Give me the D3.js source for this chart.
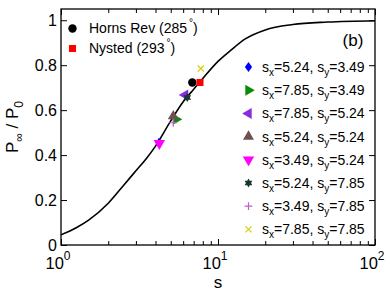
<!DOCTYPE html>
<html>
<head>
<meta charset="utf-8">
<script src="https://cdn.jsdelivr.net/npm/d3@7"></script>
<style>
  body { margin: 0; background: #fff; }
  text { font-family: "Liberation Sans", Arial, Helvetica, sans-serif; fill: #000; }
</style>
</head>
<body>
<div id="chart"></div>
<script>
// theory curve
const curveS = [1, 1.25, 1.5, 2, 2.5, 3, 3.5, 4, 5, 6, 7, 8, 10, 12, 15, 20, 30, 50, 100];
const curveP = [0.045, 0.077, 0.111, 0.186, 0.265, 0.33, 0.385, 0.44, 0.552, 0.637, 0.693, 0.741, 0.817, 0.865, 0.918, 0.957, 0.981, 0.992, 0.998];

// measured wind farms
const farmNames = ["Horns Rev", "Nysted"];
const farmAngles = ["285", "293"];
const farmS = [6.86, 7.68];
const farmP = [0.723, 0.723];

// simulated layouts
const simSx = ["5.24", "7.85", "7.85", "5.24", "3.49", "5.24", "3.49", "7.85"];
const simSy = ["3.49", "3.49", "5.24", "5.24", "5.24", "7.85", "7.85", "7.85"];
const simS = [4.21, 5.40, 6.17, 5.19, 4.23, 6.37, 5.19, 7.77];
const simP = [0.455, 0.559, 0.667, 0.573, 0.452, 0.656, 0.544, 0.785];

const xMajor = [1, 10, 100];
const xMajorExp = ["0", "1", "2"];
const yTicks = [0, 0.2, 0.4, 0.6, 0.8, 1];

const width = 390, height = 292;
const margin = {left: 61, right: 15, top: 9, bottom: 47};

const svg = d3.select("#chart").append("svg")
    .attr("width", width)
    .attr("height", height);

const x = d3.scaleLog().domain([1, 100]).range([margin.left, width - margin.right]);
const y = d3.scaleLinear().domain([0, 1.05]).range([height - margin.bottom, margin.top]);

const x0 = x.range()[0], x1 = x.range()[1];
const y0 = y.range()[0], y1 = y.range()[1];

// minor ticks 2..9 in each decade
let xMinor = [];
for (let d = 1; d < 100; d *= 10) {
    for (let k = 2; k < 10; k++) xMinor.push(d * k);
}

// ticks, inward on all four sides
svg.append("g").attr("transform", "translate(0," + y0 + ")")
    .call(d3.axisBottom(x).tickValues(xMinor).tickSize(-4).tickFormat(""));
svg.append("g").attr("transform", "translate(0," + y0 + ")")
    .call(d3.axisBottom(x).tickValues(xMajor).tickSize(-6).tickFormat(""));
svg.append("g").attr("transform", "translate(0," + y1 + ")")
    .call(d3.axisTop(x).tickValues(xMinor).tickSize(-4).tickFormat(""));
svg.append("g").attr("transform", "translate(0," + y1 + ")")
    .call(d3.axisTop(x).tickValues(xMajor).tickSize(-6).tickFormat(""));
svg.append("g").attr("transform", "translate(" + x0 + ",0)")
    .call(d3.axisLeft(y).tickValues(yTicks).tickSize(-6).tickFormat(""));
svg.append("g").attr("transform", "translate(" + x1 + ",0)")
    .call(d3.axisRight(y).tickValues(yTicks).tickSize(-6).tickFormat(""));
svg.selectAll(".domain").remove();
svg.selectAll(".tick line").attr("stroke", "#000").attr("stroke-width", 1);

// box
svg.append("rect")
    .attr("x", x0).attr("y", y1)
    .attr("width", x1 - x0).attr("height", y0 - y1)
    .attr("fill", "none").attr("stroke", "#000").attr("stroke-width", 1.3);

// tick labels
svg.selectAll(".ylab").data(yTicks).enter().append("text")
    .attr("class", "ylab")
    .attr("x", x0 - 4)
    .attr("y", d => y(d) + 5.5)
    .attr("text-anchor", "end")
    .style("font-size", "16px")
    .text(d => d === 0 || d === 1 ? d : d.toFixed(1));

const xl = svg.selectAll(".xlab").data(xMajor).enter().append("text")
    .attr("class", "xlab")
    .attr("x", d => x(d) - 3)
    .attr("y", 269)
    .attr("text-anchor", "middle")
    .style("font-size", "16.5px");
xl.append("tspan").text("10");
xl.append("tspan").attr("dy", -9).style("font-size", "12px").text((d, i) => xMajorExp[i]);

// axis titles
svg.append("text")
    .attr("x", x(10))
    .attr("y", 288)
    .attr("text-anchor", "middle")
    .style("font-size", "17px")
    .text("s");

const yt = svg.append("text")
    .attr("text-anchor", "middle")
    .attr("transform", "translate(18," + ((y0 + y1) / 2) + ")rotate(-90)")
    .style("font-size", "17px");
yt.append("tspan").text("P");
yt.append("tspan").attr("dy", 5).style("font-size", "12px").text("\u221E");
yt.append("tspan").attr("dy", -5).text(" / P");
yt.append("tspan").attr("dy", 5).style("font-size", "12px").text("0");

svg.append("text")
    .attr("x", 353)
    .attr("y", 46)
    .attr("text-anchor", "middle")
    .style("font-size", "17px")
    .text("(b)");

// curve
const line = d3.line()
    .x((d, i) => x(curveS[i]))
    .y(d => y(d))
    .curve(d3.curveMonotoneX);

svg.append("path")
    .datum(curveP)
    .attr("d", line)
    .attr("fill", "none")
    .attr("stroke", "#000")
    .attr("stroke-width", 1.6);

// marker shapes
const hexagram = {
    draw(ctx, size) {
        const R = Math.sqrt(size) * 0.62, r = R / Math.sqrt(3);
        for (let k = 0; k < 12; k++) {
            const a = -Math.PI / 2 + k * Math.PI / 6;
            const rr = k % 2 === 0 ? R : r;
            if (k === 0) ctx.moveTo(rr * Math.cos(a), rr * Math.sin(a));
            else ctx.lineTo(rr * Math.cos(a), rr * Math.sin(a));
        }
        ctx.closePath();
    }
};
const diamond = {
    draw(ctx, size) {
        const h = Math.sqrt(size) * 0.62, w = h * 0.72;
        ctx.moveTo(0, -h); ctx.lineTo(w, 0); ctx.lineTo(0, h); ctx.lineTo(-w, 0); ctx.closePath();
    }
};

const simStyle = [
    {type: diamond, size: 66, fill: "#0000ff", rot: 0},
    {type: d3.symbolTriangle, size: 52, fill: "#0b8a0b", rot: 90},
    {type: d3.symbolTriangle, size: 52, fill: "#8a2be2", rot: -90},
    {type: d3.symbolTriangle, size: 52, fill: "#70504e", rot: 0},
    {type: d3.symbolTriangle, size: 56, fill: "#ff00ff", rot: 180},
    {type: hexagram, size: 52, fill: "#17382a", rot: 0},
    {type: d3.symbolPlus, size: 36, stroke: "#c060c8", rot: 0},
    {type: d3.symbolPlus, size: 44, stroke: "#d4d000", rot: 45}
];

function marker(g, st, cx, cy) {
    const sym = d3.symbol().type(st.type).size(st.size);
    const p = g.append("path")
        .attr("transform", "translate(" + cx + "," + cy + ")rotate(" + st.rot + ")");
    if (st.stroke) {
        // open cross / x : draw as two strokes
        const h = Math.sqrt(st.size) * 0.65;
        p.attr("d", "M" + (-h) + ",0H" + h + "M0," + (-h) + "V" + h)
            .attr("fill", "none").attr("stroke", st.stroke).attr("stroke-width", 1.2);
    } else {
        p.attr("d", sym()).attr("fill", st.fill);
    }
}

const marks = svg.append("g");
// farms
marks.append("circle")
    .attr("cx", x(farmS[0])).attr("cy", y(farmP[0])).attr("r", 4.2).attr("fill", "#000");
marks.append("rect")
    .attr("x", x(farmS[1]) - 3.5).attr("y", y(farmP[1]) - 3.5)
    .attr("width", 7).attr("height", 7).attr("fill", "#ff0000");
// simulations
simS.forEach((s, i) => marker(marks, simStyle[i], x(s), y(simP[i])));

// top-left legend
const lg = svg.append("g");
lg.append("circle").attr("cx", 72.5).attr("cy", 28.5).attr("r", 4.2).attr("fill", "#000");
lg.append("rect").attr("x", 69).attr("y", 45).attr("width", 7).attr("height", 7).attr("fill", "#ff0000");
farmNames.forEach((n, i) => {
    const t = lg.append("text")
        .attr("x", 89).attr("y", 33 + i * 20)
        .style("font-size", "14px");
    t.append("tspan").text(n + " (" + farmAngles[i]);
    t.append("tspan").attr("dx", 2).attr("dy", -7).style("font-size", "10px").text("\u00B0");
    t.append("tspan").attr("dy", 7).text(")");
});

// right legend
const rg = svg.append("g");
simSx.forEach((sx, i) => {
    const ly = 67 + i * 23.2;
    marker(rg, simStyle[i], 248.5, ly);
    const t = rg.append("text")
        .attr("x", 262).attr("y", ly + 5)
        .style("font-size", "14px");
    t.append("tspan").text("s");
    t.append("tspan").attr("dy", 4).style("font-size", "10px").text("x");
    t.append("tspan").attr("dy", -4).text("=" + sx + ", s");
    t.append("tspan").attr("dy", 4).style("font-size", "10px").text("y");
    t.append("tspan").attr("dy", -4).text("=" + simSy[i]);
});
</script>
</body>
</html>
